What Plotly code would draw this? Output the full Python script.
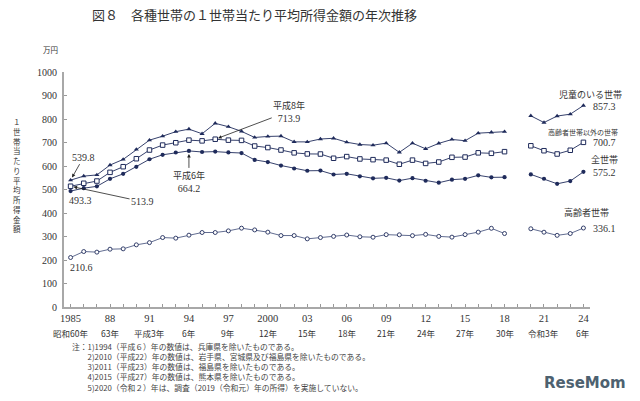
import plotly.graph_objects as go

# ---------------- data ----------------
years = list(range(1985, 2019)) + [2019] + list(range(2020, 2025))

# 児童のいる世帯
children = [539.8, 557.0, 562.0, 604.0, 628.0, 670.4, 710.0, 727.0, 746.0, 757.0,
            737.2, 781.6, 767.1, 747.4, 721.4, 725.8, 727.2, 702.7, 702.6, 714.9,
            718.0, 701.2, 691.4, 688.5, 697.3, 658.1, 697.0, 673.2, 696.3, 712.9,
            707.6, 739.8, 743.6, 745.9,
            None,
            813.5, 785.0, 812.6, 820.5, 857.3]
# 高齢者世帯以外の世帯
non_elderly = [513.9, 526.5, 536.0, 573.0, 597.0, 631.0, 668.0, 689.0, 699.0, 710.0,
               707.0, 713.9, 710.0, 709.0, 685.0, 678.5, 668.0, 656.0, 651.4, 651.0,
               633.0, 640.0, 630.0, 627.0, 625.0, 607.5, 625.0, 611.0, 617.0, 637.0,
               638.0, 656.0, 654.0, 661.0,
               None,
               686.0, 665.0, 651.1, 667.0, 700.7]
# 全世帯
all_hh = [493.3, 505.6, 513.4, 545.3, 566.7, 596.6, 628.7, 647.7, 657.5, 664.2,
          659.6, 661.2, 657.7, 655.2, 626.0, 616.9, 602.0, 589.3, 579.7, 580.4,
          563.8, 566.8, 556.2, 547.5, 549.6, 538.0, 548.2, 537.2, 528.9, 541.9,
          545.4, 560.2, 551.6, 552.3,
          None,
          564.3, 545.7, 524.2, 536.0, 575.2]
# 高齢者世帯
elderly = [210.6, 236.0, 233.5, 246.0, 247.5, 264.5, 274.0, 295.5, 293.0, 305.6,
           317.0, 317.0, 324.0, 335.5, 328.0, 318.5, 304.0, 304.0, 290.0, 295.5,
           300.5, 306.3, 298.9, 297.0, 307.9, 307.2, 303.6, 309.1, 300.5, 297.3,
           308.1, 318.6, 334.9, 312.6,
           None,
           332.9, 318.3, 304.9, 312.7, 336.1]

tick_years = [1985, 1988, 1991, 1994, 1997, 2000, 2003, 2006, 2009, 2012, 2015, 2018, 2021, 2024]
tick_labels = ["1985", "88", "91", "94", "97", "2000", "03", "06", "09", "12", "15", "18", "21", "24"]
era_labels = ["昭和60年", "63年", "平成3年", "6年", "9年", "12年", "15年", "18年",
              "21年", "24年", "27年", "30年", "令和3年", "6年"]

series_names = ["児童のいる世帯", "高齢者世帯以外の世帯", "全世帯", "高齢者世帯"]

title_text = "図８　各種世帯の１世帯当たり平均所得金額の年次推移"
notes = [
    "注：1)1994（平成６）年の数値は、兵庫県を除いたものである。",
    "　　2)2010（平成22）年の数値は、岩手県、宮城県及び福島県を除いたものである。",
    "　　3)2011（平成23）年の数値は、福島県を除いたものである。",
    "　　4)2015（平成27）年の数値は、熊本県を除いたものである。",
    "　　5)2020（令和２）年は、調査（2019（令和元）年の所得）を実施していない。",
]

# ---------------- style ----------------
NAVY = "#1f2b5b"
SERIF = "'Liberation Serif', 'DejaVu Serif', 'Noto Sans CJK JP', serif"
CJK = "'Noto Sans CJK JP', sans-serif"
W, H = 640, 401
ML, MR, MT, MB = 64.4, 49.6, 72.3, 93.7
PW, PH = W - ML - MR, H - MT - MB


def px(xp):
    return (xp - ML) / PW


def py(yp):
    return (H - MB - yp) / PH


fig = go.Figure()

fig.add_trace(go.Scatter(x=years, y=children, mode="lines+markers", name=series_names[0],
                         line=dict(color=NAVY, width=0.9),
                         marker=dict(symbol="triangle-up", size=4.5, color=NAVY)))
fig.add_trace(go.Scatter(x=years, y=non_elderly, mode="lines+markers", name=series_names[1],
                         line=dict(color=NAVY, width=0.9),
                         marker=dict(symbol="square", size=4.5, color="white",
                                     line=dict(color=NAVY, width=1))))
fig.add_trace(go.Scatter(x=years, y=all_hh, mode="lines+markers", name=series_names[2],
                         line=dict(color=NAVY, width=0.9),
                         marker=dict(symbol="circle", size=4.2, color=NAVY)))
fig.add_trace(go.Scatter(x=years, y=elderly, mode="lines+markers", name=series_names[3],
                         line=dict(color="#3a4775", width=0.8),
                         marker=dict(symbol="circle", size=4, color="white",
                                     line=dict(color=NAVY, width=0.9))))

ann = []
# title and units
ann.append(dict(text=title_text, xref="paper", yref="paper", x=px(255), y=py(15),
                showarrow=False, xanchor="center", yanchor="middle",
                font=dict(family=CJK, size=13, color="#333")))
ann.append(dict(text="万円", xref="paper", yref="paper", x=px(51), y=py(50),
                showarrow=False, xanchor="center", yanchor="middle",
                font=dict(family=CJK, size=7.5, color="#333")))
# vertical y-axis title
ytitle = "１世帯当たり平均所得金額"
ann.append(dict(text="<br>".join(list(ytitle)), xref="paper", yref="paper",
                x=px(17), y=py(175), showarrow=False, xanchor="center", yanchor="middle",
                font=dict(family=CJK, size=7.5, color="#333")))

# era labels under year ticks
for yr, lab in zip(tick_years, era_labels):
    ann.append(dict(text=lab, x=yr, xref="x", yref="paper", y=py(333),
                    showarrow=False, xanchor="center", yanchor="middle",
                    font=dict(family=CJK, size=8.5, color="#333")))

# notes (one block)
ann.append(dict(text="<br>".join(notes), xref="paper", yref="paper", x=px(70),
                y=py(339), showarrow=False, xanchor="left", yanchor="top", align="left",
                font=dict(family=CJK, size=7.8, color="#444")))

vfont = dict(family=SERIF, size=10, color="#333")
nfont = dict(family=CJK, size=9, color="#333")
last = len(years) - 1
# right-side series labels & last values
right = [
    (children, series_names[0], nfont, 7, 11),
    (non_elderly, series_names[1], dict(family=CJK, size=7, color="#333"), 0, 10),
    (all_hh, series_names[2], nfont, 21, 12),
    (elderly, series_names[3], nfont, 3, 16),
]
for ser, nm, f, dx, dy in right:
    ann.append(dict(text=f"{ser[last]:.1f}", x=years[last], y=ser[last], xref="x", yref="y",
                    showarrow=False, xanchor="left", yanchor="middle", xshift=7.5, yshift=-0.5,
                    font=vfont))
    ann.append(dict(text=nm, x=years[last], y=ser[last], xref="x", yref="y",
                    showarrow=False, xanchor="center", yanchor="middle", xshift=dx, yshift=dy,
                    font=f))

arrow = dict(arrowhead=2, arrowsize=0.9, arrowwidth=0.8, arrowcolor="#222", standoff=3)
# 1985 labels
ann.append(dict(text=f"{children[0]:.1f}", x=years[0], y=children[0], xref="x", yref="y",
                ax=13, ay=-23, showarrow=True, font=vfont, **arrow))
ann.append(dict(text=f"{non_elderly[0]:.1f}", x=years[0], y=non_elderly[0], xref="x", yref="y",
                ax=72, ay=15.5, showarrow=True, font=vfont, **arrow))
ann.append(dict(text=f"{all_hh[0]:.1f}", x=years[0], y=all_hh[0], xref="x", yref="y",
                showarrow=False, xshift=10, yshift=-9, font=vfont))
ann.append(dict(text=f"{elderly[0]:.1f}", x=years[0], y=elderly[0], xref="x", yref="y",
                showarrow=False, xshift=11, yshift=-9.5, font=vfont))
# peaks
i94 = years.index(1994)
ann.append(dict(text=f"<span style=\"font-family:'Noto Sans CJK JP';font-size:9px\">平成6年</span><br>{all_hh[i94]:.1f}",
                x=1994, y=all_hh[i94], xref="x", yref="y", ax=0, ay=31,
                showarrow=True, font=vfont, **arrow))
i96 = years.index(1996)
ann.append(dict(text=f"<span style=\"font-family:'Noto Sans CJK JP';font-size:9px\">平成8年</span><br>{non_elderly[i96]:.1f}",
                x=1996, y=non_elderly[i96], xref="x", yref="y", ax=74, ay=-28,
                showarrow=True, font=vfont, **arrow))

# watermark
ann.append(dict(text="<b>ReseMom</b>", xref="paper", yref="paper", x=px(585), y=py(383),
                showarrow=False, xanchor="center", yanchor="middle",
                font=dict(family="DejaVu Sans", size=15, color="#4d6170")))

fig.update_layout(
    width=W, height=H,
    margin=dict(l=ML, r=MR, t=MT, b=MB, autoexpand=False),
    paper_bgcolor="white", plot_bgcolor="white",
    showlegend=False,
    annotations=ann,
    font=dict(family=SERIF, size=10, color="#333"),
)
fig.update_xaxes(range=[1984.5, 2024.5], tickvals=tick_years, ticktext=tick_labels,
                 ticks="inside", ticklen=3, tickcolor="#999", showgrid=False, zeroline=False,
                 showline=True, linecolor="#a8a8a8", linewidth=2,
                 minor=dict(dtick=1, tick0=1985, ticks="inside", ticklen=3, tickcolor="#999"),
                 tickfont=dict(family=SERIF, size=10.5, color="#333"))
fig.update_yaxes(range=[0, 1000], dtick=100, ticks="inside", ticklen=3, tickcolor="#999",
                 showgrid=False, zeroline=False, showline=True, linecolor="#a8a8a8", linewidth=2,
                 tickfont=dict(family=SERIF, size=10, color="#333"), ticklabelstandoff=3)

fig.write_html("out.html")
